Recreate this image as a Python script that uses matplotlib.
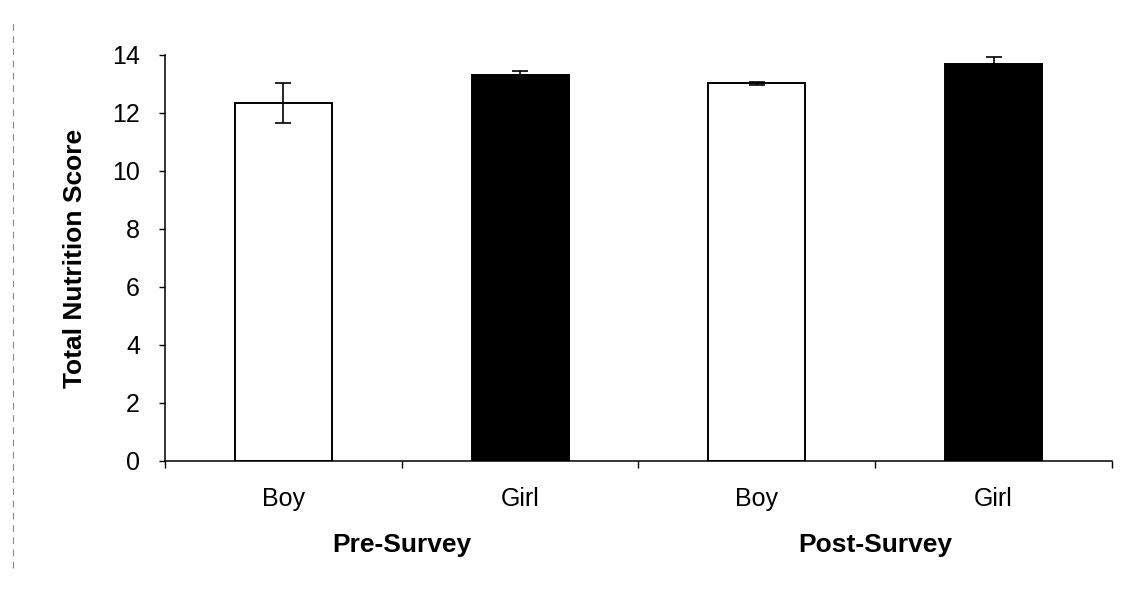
import matplotlib
matplotlib.use("Agg")
import matplotlib.pyplot as plt
import numpy as np

# data
groups = ["Pre-Survey", "Post-Survey"]
categories = ["Boy", "Girl", "Boy", "Girl"]
scores = [12.35, 13.3, 13.02, 13.68]
errors = [0.7, 0.15, 0.05, 0.25]
colors = ["white", "black", "white", "black"]
y_ticks = [0, 2, 4, 6, 8, 10, 12, 14]

plt.rcParams["font.family"] = ["Liberation Sans", "DejaVu Sans"]
FS = 18
FS_BOLD = 19

fig = plt.figure(figsize=(11.34, 5.92), dpi=100)
ax = fig.add_axes([0.1455, 0.2213, 0.835, 0.6858])

x = np.arange(len(categories))
ax.bar(x, scores, width=0.41, color=colors, edgecolor="black", linewidth=1.4, zorder=2)
ax.errorbar(x, scores, yerr=errors, fmt="none", ecolor="black", elinewidth=1.2,
            capsize=6, capthick=1.2, zorder=3)

ax.set_xlim(-0.5, len(categories) - 0.5)
ax.set_ylim(0, 14)
ax.set_yticks(y_ticks)
ax.tick_params(axis="y", labelsize=FS, direction="out", length=4, width=1, pad=14)

# ticks at category boundaries, labels at centres
ax.set_xticks(np.arange(len(categories) + 1) - 0.5)
ax.set_xticklabels([])
ax.set_xticks(x, minor=True)
ax.set_xticklabels(categories, minor=True)
ax.tick_params(axis="x", which="major", direction="out", length=5, width=1)
ax.tick_params(axis="x", which="minor", length=0, labelsize=FS, pad=19)

for i, g in enumerate(groups):
    ax.text(2 * i + 0.5, -0.207, g, transform=ax.get_xaxis_transform(),
            ha="center", va="center", fontsize=FS_BOLD, fontweight="bold")

ax.set_ylabel("Total Nutrition Score", fontsize=FS_BOLD, fontweight="bold", labelpad=18)

ax.spines["top"].set_visible(False)
ax.spines["right"].set_visible(False)
ax.spines["left"].set_linewidth(1.1)
ax.spines["bottom"].set_linewidth(1.1)

# faint scan edge at the left
fig.add_artist(plt.Line2D([0.0115, 0.0115], [0.04, 0.97], transform=fig.transFigure,
                          color="#888888", lw=0.8, ls=(0, (6, 5))))

fig.savefig("out.png", dpi=100, facecolor="white")
